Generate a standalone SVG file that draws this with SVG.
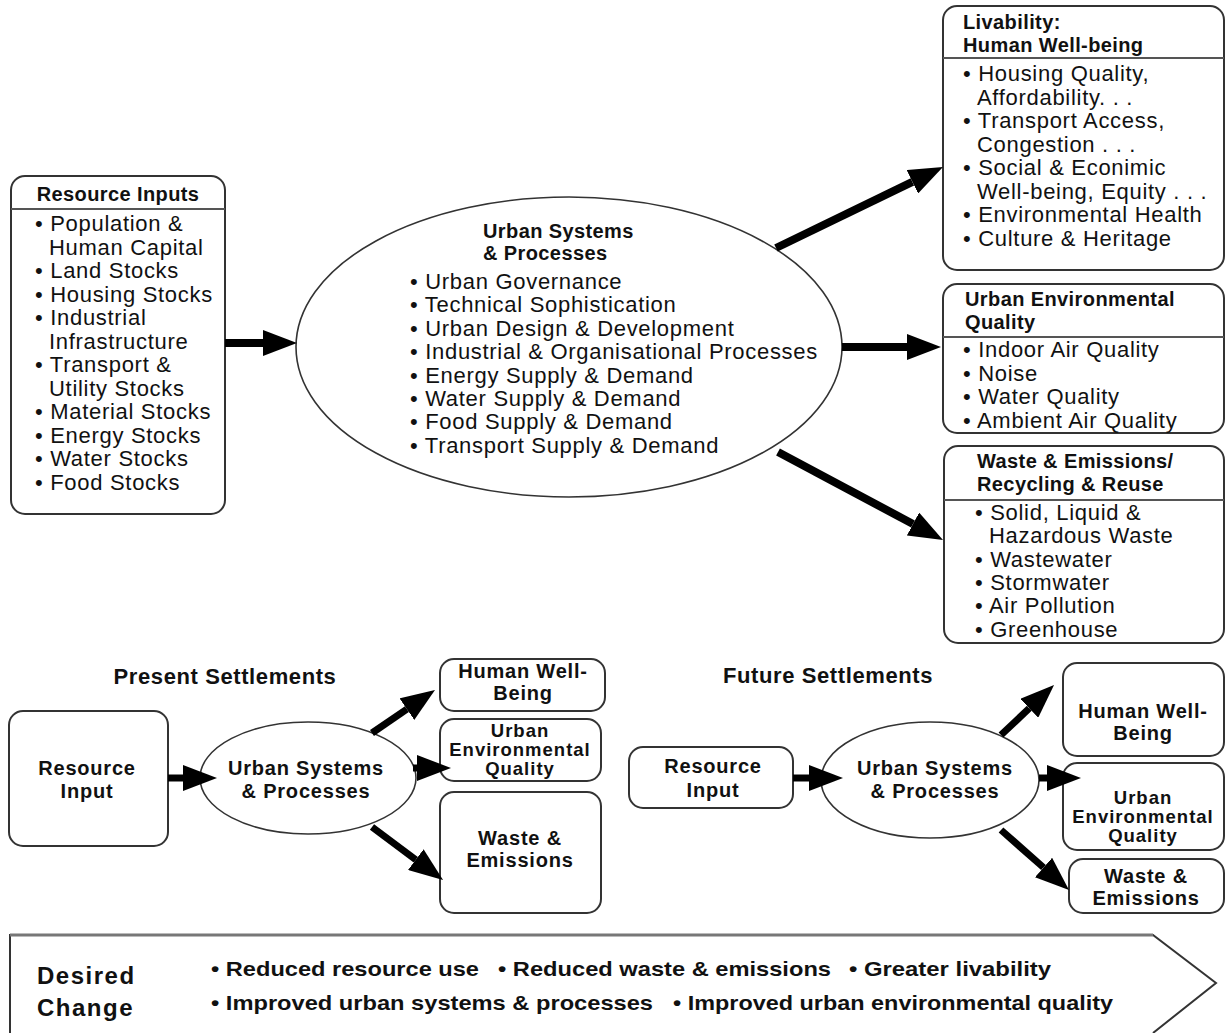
<svg xmlns="http://www.w3.org/2000/svg" width="1227" height="1033" viewBox="0 0 1227 1033">
<style>
text{font-family:"Liberation Sans",Arial,Helvetica,sans-serif;fill:#111}
.b{font-size:22px;letter-spacing:0.7px}
.h{font-size:20px;font-weight:bold;letter-spacing:0.4px}
.s{font-size:20px;font-weight:bold;letter-spacing:0.8px;text-anchor:middle}
.q{font-size:18.5px;font-weight:bold;letter-spacing:1px;text-anchor:middle}
.t{font-size:22px;font-weight:bold;letter-spacing:0.6px;text-anchor:middle}
.d{font-size:24px;font-weight:bold;letter-spacing:1.5px}
.i{font-size:21px;font-weight:bold}
.box{fill:#fff;stroke:#333;stroke-width:2}
.sep{stroke:#555;stroke-width:2}
.ell{fill:#fff;stroke:#333;stroke-width:1.6}
.c{stroke:#000;fill:none;marker-end:url(#ah)}
.w8{stroke-width:8}
.w7{stroke-width:7}
</style>
<defs>
<marker id="ah" markerUnits="userSpaceOnUse" markerWidth="34" markerHeight="26" refX="0" refY="13" orient="auto" viewBox="0 0 34 26">
<path d="M0,0 L34,13 L0,26 z" fill="#000"/>
</marker>
</defs>
<rect width="1227" height="1033" fill="#fff"/>

<g id="resource-inputs">
<rect class="box" x="11" y="176" width="214" height="338" rx="14"/>
<text class="h" x="118" y="201" text-anchor="middle">Resource Inputs</text>
<line class="sep" x1="11" y1="209" x2="225" y2="209"/>
<text class="b" x="35" y="231">• Population &amp;</text>
<text class="b" x="49" y="254.5">Human Capital</text>
<text class="b" x="35" y="278">• Land Stocks</text>
<text class="b" x="35" y="301.5">• Housing Stocks</text>
<text class="b" x="35" y="325">• Industrial</text>
<text class="b" x="49" y="348.5">Infrastructure</text>
<text class="b" x="35" y="372">• Transport &amp;</text>
<text class="b" x="49" y="395.5">Utility Stocks</text>
<text class="b" x="35" y="419">• Material Stocks</text>
<text class="b" x="35" y="442.5">• Energy Stocks</text>
<text class="b" x="35" y="466">• Water Stocks</text>
<text class="b" x="35" y="489.5">• Food Stocks</text>
</g>

<g id="urban-systems">
<ellipse class="ell" cx="569" cy="347" rx="273" ry="150"/>
<text class="h" x="483" y="238">Urban Systems</text>
<text class="h" x="483" y="260">&amp; Processes</text>
<text class="b" x="410" y="289">• Urban Governance</text>
<text class="b" x="410" y="312.4">• Technical Sophistication</text>
<text class="b" x="410" y="335.8">• Urban Design &amp; Development</text>
<text class="b" x="410" y="359.2">• Industrial &amp; Organisational Processes</text>
<text class="b" x="410" y="382.6">• Energy Supply &amp; Demand</text>
<text class="b" x="410" y="406">• Water Supply &amp; Demand</text>
<text class="b" x="410" y="429.4">• Food Supply &amp; Demand</text>
<text class="b" x="410" y="452.8">• Transport Supply &amp; Demand</text>
</g>

<g id="livability">
<rect class="box" x="943" y="6" width="281" height="264" rx="14"/>
<text class="h" x="963" y="29">Livability:</text>
<text class="h" x="963" y="52">Human Well-being</text>
<line class="sep" x1="943" y1="58" x2="1224" y2="58"/>
<text class="b" x="963" y="81">• Housing Quality,</text>
<text class="b" x="977" y="104.5">Affordability. . .</text>
<text class="b" x="963" y="128">• Transport Access,</text>
<text class="b" x="977" y="151.5">Congestion . . .</text>
<text class="b" x="963" y="175">• Social &amp; Econimic</text>
<text class="b" x="977" y="198.5">Well-being, Equity . . .</text>
<text class="b" x="963" y="222">• Environmental Health</text>
<text class="b" x="963" y="245.5">• Culture &amp; Heritage</text>
</g>

<g id="env-quality">
<rect class="box" x="943" y="284" width="281" height="149" rx="14"/>
<text class="h" x="965" y="306">Urban Environmental</text>
<text class="h" x="965" y="329">Quality</text>
<line class="sep" x1="943" y1="337" x2="1224" y2="337"/>
<text class="b" x="963" y="357">• Indoor Air Quality</text>
<text class="b" x="963" y="380.5">• Noise</text>
<text class="b" x="963" y="404">• Water Quality</text>
<text class="b" x="963" y="427.5">• Ambient Air Quality</text>
</g>

<g id="waste">
<rect class="box" x="944" y="446" width="280" height="197" rx="14"/>
<text class="h" x="977" y="468">Waste &amp; Emissions/</text>
<text class="h" x="977" y="491">Recycling &amp; Reuse</text>
<line class="sep" x1="944" y1="500" x2="1224" y2="500"/>
<text class="b" x="975" y="520">• Solid, Liquid &amp;</text>
<text class="b" x="989" y="543.3">Hazardous Waste</text>
<text class="b" x="975" y="566.6">• Wastewater</text>
<text class="b" x="975" y="590">• Stormwater</text>
<text class="b" x="975" y="613.3">• Air Pollution</text>
<text class="b" x="975" y="636.6">• Greenhouse</text>
</g>

<g id="present-title"><text class="t" x="225" y="684">Present Settlements</text></g>
<g id="p-resource">
<rect class="box" x="9" y="711" width="159" height="135" rx="14"/>
<text class="s" x="87" y="775">Resource</text>
<text class="s" x="87" y="798">Input</text>
</g>
<g id="p-urban">
<ellipse class="ell" cx="308" cy="778" rx="108" ry="56"/>
<text class="s" x="306" y="775">Urban Systems</text>
<text class="s" x="306" y="798">&amp; Processes</text>
</g>
<g id="p-human">
<rect class="box" x="440" y="659" width="165" height="52" rx="14"/>
<text class="s" x="523" y="678">Human Well-</text>
<text class="s" x="523" y="700">Being</text>
</g>
<g id="p-env">
<rect class="box" x="440" y="719" width="161" height="62" rx="14"/>
<text class="q" x="520" y="737">Urban</text>
<text class="q" x="520" y="756">Environmental</text>
<text class="q" x="520" y="775">Quality</text>
</g>
<g id="p-waste">
<rect class="box" x="440" y="792" width="161" height="121" rx="14"/>
<text class="s" x="520" y="845">Waste &amp;</text>
<text class="s" x="520" y="867">Emissions</text>
</g>

<g id="future-title"><text class="t" x="828" y="683">Future Settlements</text></g>
<g id="f-resource">
<rect class="box" x="629" y="747" width="164" height="61" rx="14"/>
<text class="s" x="713" y="773">Resource</text>
<text class="s" x="713" y="797">Input</text>
</g>
<g id="f-urban">
<ellipse class="ell" cx="930" cy="780" rx="109" ry="58"/>
<text class="s" x="935" y="775">Urban Systems</text>
<text class="s" x="935" y="798">&amp; Processes</text>
</g>
<g id="f-human">
<rect class="box" x="1063" y="663" width="161" height="93" rx="14"/>
<text class="s" x="1143" y="718">Human Well-</text>
<text class="s" x="1143" y="740">Being</text>
</g>
<g id="f-env">
<rect class="box" x="1063" y="763" width="161" height="87" rx="14"/>
<text class="q" x="1143" y="804">Urban</text>
<text class="q" x="1143" y="823">Environmental</text>
<text class="q" x="1143" y="842">Quality</text>
</g>
<g id="f-waste">
<rect class="box" x="1069" y="859" width="155" height="54" rx="14"/>
<text class="s" x="1146" y="883">Waste &amp;</text>
<text class="s" x="1146" y="905">Emissions</text>
</g>

<g id="desired-change">
<path d="M10,1033 L10,935 L1153,935 L1216,983 L1153,1033" fill="#fff" stroke="#333" stroke-width="2"/>
<line x1="10" y1="935" x2="1153" y2="935" stroke="#777" stroke-width="3"/>
<text class="d" x="37" y="984">Desired</text>
<text class="d" x="37" y="1016">Change</text>
<text class="i" x="211" y="976" textLength="268" lengthAdjust="spacingAndGlyphs">• Reduced resource use</text>
<text class="i" x="498" y="976" textLength="333" lengthAdjust="spacingAndGlyphs">• Reduced waste &amp; emissions</text>
<text class="i" x="849" y="976" textLength="202" lengthAdjust="spacingAndGlyphs">• Greater livability</text>
<text class="i" x="211" y="1010" textLength="442" lengthAdjust="spacingAndGlyphs">• Improved urban systems &amp; processes</text>
<text class="i" x="673" y="1010" textLength="440" lengthAdjust="spacingAndGlyphs">• Improved urban environmental quality</text>
</g>

<g id="connectors">
<line class="c w8" x1="225" y1="343" x2="263" y2="343"/>
<line class="c w8" x1="776" y1="248" x2="912.4" y2="181.8"/>
<line class="c w8" x1="842" y1="347" x2="907" y2="347"/>
<line class="c w8" x1="778" y1="452" x2="913" y2="524"/>
<line class="c w7" x1="168" y1="778" x2="183" y2="778"/>
<line class="c w7" x1="372" y1="733" x2="406.9" y2="709.2"/>
<line class="c w7" x1="413" y1="768" x2="417" y2="768"/>
<line class="c w7" x1="372" y1="827" x2="415.8" y2="859.7"/>
<line class="c w7" x1="793" y1="778" x2="809" y2="778"/>
<line class="c w7" x1="1001" y1="735" x2="1029.3" y2="708.3"/>
<line class="c w7" x1="1039" y1="778" x2="1047" y2="778"/>
<line class="c w7" x1="1001" y1="830" x2="1043.5" y2="867.5"/>
</g>
</svg>
